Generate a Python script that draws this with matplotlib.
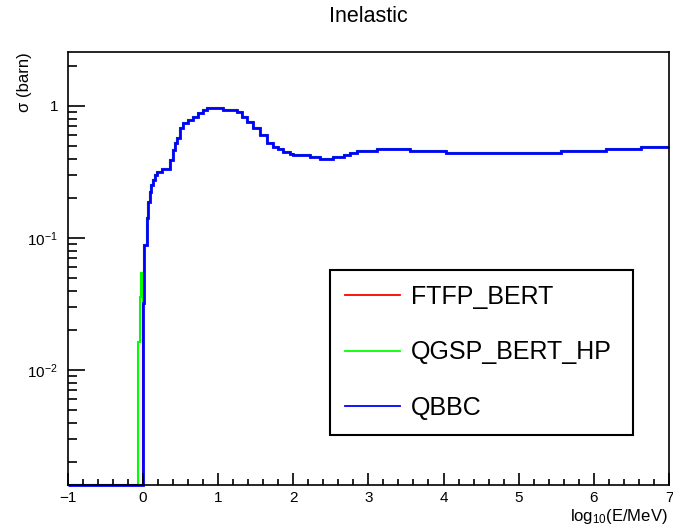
import matplotlib
matplotlib.use("Agg")
import matplotlib.pyplot as plt
from matplotlib.lines import Line2D
from matplotlib.ticker import FixedLocator, MultipleLocator, LogLocator, NullFormatter

plt.rcParams["font.family"] = ["Liberation Sans", "DejaVu Sans"]
plt.rcParams["mathtext.fontset"] = "custom"
plt.rcParams["mathtext.rm"] = "Liberation Sans"
plt.rcParams["mathtext.it"] = "Liberation Sans:italic"

# bin edges in log10(E/MeV) and inelastic cross section (barn)
edges = [-1.0, 0.0, 0.02, 0.05, 0.07, 0.09, 0.11, 0.13, 0.16, 0.19, 0.25,
         0.36, 0.40, 0.43, 0.45, 0.49, 0.53, 0.60, 0.67, 0.73, 0.80, 0.85,
         1.07, 1.25, 1.32, 1.39, 1.47, 1.56, 1.65, 1.73, 1.80, 1.87, 1.96,
         2.00, 2.23, 2.36, 2.53, 2.67, 2.76, 2.85, 3.12, 3.56, 4.03, 5.56,
         6.16, 6.63, 7.0]
qbbc = [0.0, 0.032, 0.0885, 0.142, 0.187, 0.223, 0.252, 0.275, 0.300, 0.318,
        0.333, 0.390, 0.464, 0.525, 0.573, 0.681, 0.743, 0.783, 0.826, 0.885,
        0.933, 0.966, 0.933, 0.901, 0.826, 0.757, 0.681, 0.603, 0.525, 0.489,
        0.472, 0.449, 0.435, 0.425, 0.411, 0.397, 0.411, 0.425, 0.440, 0.456,
        0.472, 0.456, 0.440, 0.456, 0.472, 0.489]
# FTFP_BERT is identical to QBBC (hidden underneath it)
ftfp_bert = list(qbbc)
# QGSP_BERT_HP starts a little below threshold, then follows QBBC
qgsp_low_edges = [-1.0, -0.06, -0.04, -0.02]
qgsp_low_values = [0.0, 0.0163, 0.036, 0.054]

labels = ["FTFP_BERT", "QGSP_BERT_HP", "QBBC"]
colors = ["#ff0000", "#00ff00", "#0000ff"]

YMIN, YMAX = 1.345e-3, 2.565


def floor_zero(vals):
    # empty bins are drawn along the bottom of the frame
    return [max(v, YMIN) for v in vals]


fig = plt.figure(figsize=(6.73, 5.29), dpi=100)
ax = fig.add_axes([67.7 / 673, 44 / 529, 601.3 / 673, 433 / 529])

qgsp_edges = qgsp_low_edges + edges[1:]
qgsp_vals = qgsp_low_values + qbbc[1:]

ax.stairs(floor_zero(ftfp_bert), edges, baseline=None, color=colors[0], lw=1.5, clip_on=False)
ax.stairs(floor_zero(qgsp_vals), qgsp_edges, baseline=None, color=colors[1], lw=1.5, clip_on=False)
ax.stairs(floor_zero(qbbc), edges, baseline=None, color=colors[2], lw=2.0, clip_on=False)

ax.set_xlim(-1, 7)
ax.set_yscale("log")
ax.set_ylim(YMIN, YMAX)

ax.xaxis.set_major_locator(MultipleLocator(1))
ax.xaxis.set_minor_locator(MultipleLocator(0.2))
ax.yaxis.set_major_locator(FixedLocator([0.01, 0.1, 1]))
ax.set_yticklabels([r"$10^{-2}$", r"$10^{-1}$", "1"])
ax.yaxis.set_minor_locator(LogLocator(base=10, subs=range(2, 10)))
ax.yaxis.set_minor_formatter(NullFormatter())

ax.tick_params(axis="both", which="both", direction="in", top=False, right=False, width=1.2)
ax.tick_params(axis="x", which="major", length=8.6, pad=4, labelsize=11)
ax.tick_params(axis="x", which="minor", length=4.3)
ax.tick_params(axis="y", which="major", length=12, pad=7, labelsize=11)
ax.tick_params(axis="y", which="minor", length=6.5)
for s in ax.spines.values():
    s.set_linewidth(1.2)

fig.text(368 / 673, 1 - 17 / 529, "Inelastic", ha="center", va="center", fontsize=15.5)
fig.text(25 / 673, 1 - 52 / 529, "σ (barn)", rotation=90, ha="center", va="top", fontsize=12)
fig.text(668 / 673, 1 - 517 / 529, r"log$_{10}$(E/MeV)", ha="right", va="center", fontsize=12)

handles = [Line2D([], [], color=c, lw=1.3) for c in colors]
leg = ax.legend(handles, labels, loc="upper left",
                bbox_to_anchor=(330 / 673, 97 / 529, 303 / 673, 162 / 529),
                bbox_transform=fig.transFigure, mode="expand", borderaxespad=0,
                fontsize=18, fancybox=False, framealpha=1, edgecolor="black",
                handlelength=2.2, handletextpad=0.45, borderpad=0.6,
                labelspacing=1.25)
leg.get_frame().set_linewidth(1.5)

fig.savefig("out.png", dpi=100)
